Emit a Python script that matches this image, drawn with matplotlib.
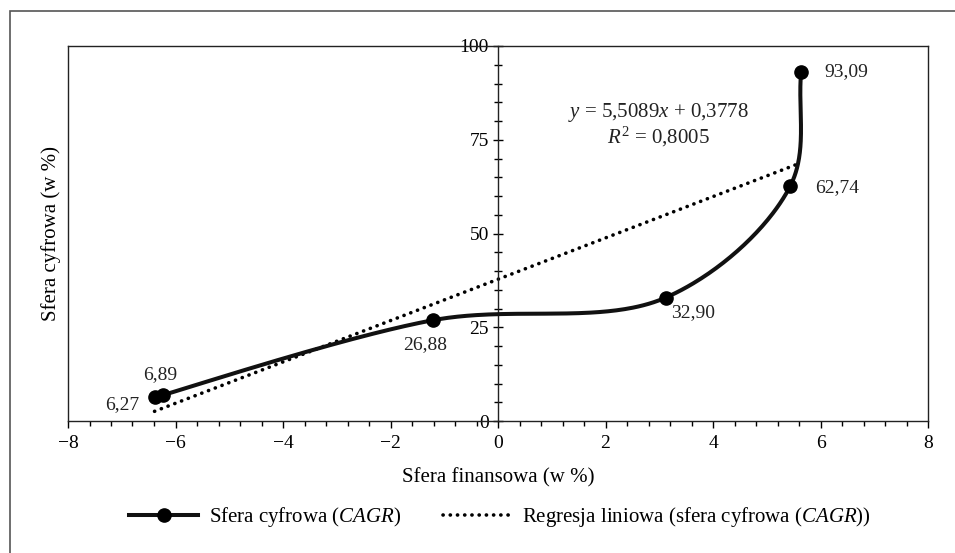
import numpy as np
import matplotlib
matplotlib.use("Agg")
import matplotlib.pyplot as plt
from matplotlib.patches import Rectangle
from matplotlib.lines import Line2D
from matplotlib.ticker import MultipleLocator

plt.rcParams.update({
    'font.family': 'serif',
    'font.serif': ['Liberation Serif', 'DejaVu Serif'],
    'mathtext.fontset': 'custom',
    'mathtext.rm': 'Liberation Serif',
    'mathtext.it': 'Liberation Serif:italic',
    'font.size': 14,
})

# ---- data ----
sfera_finansowa = [-6.39, -6.24, -1.21, 3.12, 5.44, 5.64]
sfera_cyfrowa = [6.27, 6.89, 26.88, 32.90, 62.74, 93.09]
point_labels = ['6,27', '6,89', '26,88', '32,90', '62,74', '93,09']
eq_text = r'$y$ = 5,5089$x$ + 0,3778'
r2_text = r'$R^2$ = 0,8005'
x_ticks = [-8, -6, -4, -2, 0, 2, 4, 6, 8]
y_ticks = [0, 25, 50, 75, 100]

# label offsets (pixels) next to each point
LABEL_OFF = [(-32, -7), (-2, 21), (-8, -24), (27, -15), (47, -2), (45, 0)]

DOTS = (0, (0.05, 1.95))


def smooth_line(xs, ys, sx=53.75, sy=3.75, n=80, alpha=0.5):
    # centripetal Catmull-Rom, done in screen-like units so it doesn't overshoot
    P = np.column_stack([np.asarray(xs) * sx, np.asarray(ys) * sy]).astype(float)
    P = np.vstack([2 * P[0] - P[1], P, 2 * P[-1] - P[-2]])
    out = []
    for i in range(1, len(P) - 2):
        p0, p1, p2, p3 = P[i - 1], P[i], P[i + 1], P[i + 2]
        t0 = 0.0
        t1 = t0 + np.linalg.norm(p1 - p0) ** alpha
        t2 = t1 + np.linalg.norm(p2 - p1) ** alpha
        t3 = t2 + np.linalg.norm(p3 - p2) ** alpha
        t = np.linspace(t1, t2, n)[:, None]
        a1 = (t1 - t) / (t1 - t0) * p0 + (t - t0) / (t1 - t0) * p1
        a2 = (t2 - t) / (t2 - t1) * p1 + (t - t1) / (t2 - t1) * p2
        a3 = (t3 - t) / (t3 - t2) * p2 + (t - t2) / (t3 - t2) * p3
        b1 = (t2 - t) / (t2 - t0) * a1 + (t - t0) / (t2 - t0) * a2
        b2 = (t3 - t) / (t3 - t1) * a2 + (t - t1) / (t3 - t1) * a3
        c = (t2 - t) / (t2 - t1) * b1 + (t - t1) / (t2 - t1) * b2
        out.append(c)
    out = np.vstack(out)
    return out[:, 0] / sx, out[:, 1] / sy


fig = plt.figure(figsize=(9.55, 5.53), dpi=100)
ax = fig.add_axes([68 / 955, 1 - 421 / 553, 860 / 955, 375 / 553])

# smoothed series
cx, cy = smooth_line(sfera_finansowa, sfera_cyfrowa)
ax.plot(cx, cy, color='#111111', lw=2.9, zorder=3, solid_capstyle='round')
ax.plot(sfera_finansowa, sfera_cyfrowa, 'o', color='black', ms=9.5, zorder=4)

# linear regression
coef = np.polyfit(sfera_finansowa, sfera_cyfrowa, 1)
rx = np.array([min(sfera_finansowa), max(sfera_finansowa)])
ax.plot(rx, np.polyval(coef, rx), color='black', lw=2.6,
        linestyle=DOTS, dash_capstyle='round', zorder=2)

for xv, yv, lab, (dx, dy) in zip(sfera_finansowa, sfera_cyfrowa, point_labels, LABEL_OFF):
    ax.annotate(lab, (xv, yv), xytext=(dx, dy), textcoords='offset pixels',
                ha='center', va='center', fontsize=14, color='#222222')

ax.text(2.99, 82.4, eq_text, ha='center', va='center', fontsize=15, color='#222222')
ax.text(2.99, 75.7, r2_text, ha='center', va='center', fontsize=15, color='#222222')

ax.set_xlim(-8, 8)
ax.set_ylim(0, 100)
ax.set_xticks(x_ticks)
ax.set_yticks(y_ticks)
ax.xaxis.set_minor_locator(MultipleLocator(0.4))
ax.yaxis.set_minor_locator(MultipleLocator(5))

ax.spines['left'].set_position(('data', 0))
for s in ax.spines.values():
    s.set_linewidth(1.0)
    s.set_color('#222222')
ax.plot([0, 0], [0, 1], transform=ax.transAxes, color='#222222', lw=1.0, clip_on=False)

ax.tick_params(axis='x', which='major', direction='out', length=5, width=1.0, pad=5, labelsize=14)
ax.tick_params(axis='x', which='minor', direction='out', length=3.6, width=1.0)
ax.tick_params(axis='y', which='major', direction='inout', length=7.2, width=1.0, pad=3, labelsize=14)
ax.tick_params(axis='y', which='minor', direction='inout', length=6, width=1.0)

ax.set_xlabel('Sfera finansowa (w %)', fontsize=15)
ax.xaxis.set_label_coords(0.5, -0.125)
ax.set_ylabel('Sfera cyfrowa (w %)', fontsize=15)
ax.yaxis.set_label_coords(-0.008, 0.5)

handles = [
    Line2D([], [], color='#111111', lw=2.9, marker='o', ms=9.5, mfc='black', mec='black'),
    Line2D([], [], color='black', lw=2.6, linestyle=DOTS, dash_capstyle='round'),
]
fig.legend(handles, [r'Sfera cyfrowa ($\mathit{CAGR}$)',
                     r'Regresja liniowa (sfera cyfrowa ($\mathit{CAGR}$))'],
           loc='center', bbox_to_anchor=(0.5236, 1 - 517 / 553), ncol=2, frameon=False,
           fontsize=15, handlelength=3.3, handletextpad=0.5, columnspacing=2.0)

# outer frame
fig.add_artist(Rectangle((9.5 / 955, -0.1), 1.2, 1 - 10.5 / 553 + 0.1,
                         transform=fig.transFigure, fill=False,
                         edgecolor='#555555', lw=1.2, clip_on=False))

fig.savefig('out.png', dpi=100)
